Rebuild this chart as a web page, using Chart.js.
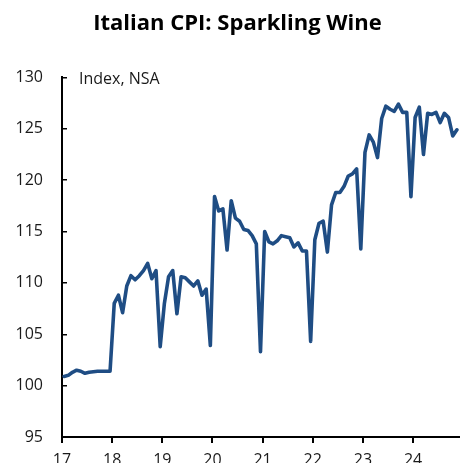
<!DOCTYPE html>
<html>
<head>
<meta charset="utf-8">
<script src="https://cdn.jsdelivr.net/npm/chart.js@4"></script>
<style>
  html, body { margin: 0; padding: 0; background: #fff; overflow: hidden; }
  #cpiChart { display: block; }
</style>
</head>
<body>
<canvas id="cpiChart" width="467" height="480"></canvas>
<script>
// Italian CPI, sparkling wine, monthly index (NSA), one array per year
const cpi2017 = [100.9, 101.0, 101.3, 101.5, 101.4, 101.2, 101.3, 101.35, 101.4, 101.4, 101.4, 101.4];
const cpi2018 = [108.0, 108.8, 107.1, 109.7, 110.7, 110.3, 110.7, 111.2, 111.9, 110.4, 111.2, 103.8];
const cpi2019 = [108.0, 110.6, 111.2, 107.0, 110.6, 110.5, 110.1, 109.7, 110.2, 108.8, 109.4, 103.9];
const cpi2020 = [118.4, 117.0, 117.2, 113.2, 118.0, 116.3, 116.0, 115.2, 115.1, 114.6, 113.8, 103.3];
const cpi2021 = [115.0, 114.0, 113.8, 114.1, 114.6, 114.5, 114.4, 113.5, 113.9, 113.1, 113.1, 104.3];
const cpi2022 = [114.2, 115.8, 116.0, 113.0, 117.6, 118.8, 118.8, 119.4, 120.4, 120.6, 121.1, 113.3];
const cpi2023 = [122.7, 124.4, 123.7, 122.2, 126.0, 127.2, 126.9, 126.7, 127.4, 126.6, 126.6, 118.4];
const cpi2024 = [126.1, 127.1, 122.5, 126.5, 126.4, 126.6, 125.6, 126.5, 126.1, 124.3, 124.9];

const years = [17, 18, 19, 20, 21, 22, 23, 24];
const yearLabels = ['17', '18', '19', '20', '21', '22', '23', '24'];
const yTicks = [95, 100, 105, 110, 115, 120, 125, 130];

// monthly points sit mid-month on a fractional-year axis
const series = [cpi2017, cpi2018, cpi2019, cpi2020, cpi2021, cpi2022, cpi2023, cpi2024];
const points = [];
series.forEach((vals, yi) => {
  vals.forEach((v, m) => points.push({ x: years[yi] + (m + 0.5) / 12, y: v }));
});

const FONT = "'Open Sans', 'Noto Sans', sans-serif";
const INK = '#1a1a1a';

// unit note in the top-left corner of the plot
const unitNote = {
  id: 'unitNote',
  afterDraw(chart) {
    const { ctx, chartArea } = chart;
    ctx.save();
    ctx.font = '16px ' + FONT;
    ctx.fillStyle = INK;
    ctx.textAlign = 'left';
    ctx.textBaseline = 'middle';
    ctx.fillText('Index, NSA', chartArea.left + 17, chartArea.top + 2);
    ctx.restore();
  }
};

const ctx = document.getElementById('cpiChart').getContext('2d');
const cpiChart = new Chart(ctx, {
  type: 'line',
  data: {
    datasets: [{
      label: 'Sparkling Wine',
      data: points,
      borderColor: '#1f4d84',
      borderWidth: 3.6,
      pointRadius: 0,
      tension: 0,
      borderJoinStyle: 'round',
      borderCapStyle: 'round'
    }]
  },
  options: {
    responsive: false,
    animation: false,
    layout: { padding: { top: 0, right: 8, bottom: 0, left: 16 } },
    plugins: {
      legend: { display: false },
      tooltip: { enabled: false },
      title: {
        display: true,
        text: 'Italian CPI: Sparkling Wine',
        color: '#000',
        font: { family: FONT, size: 22, weight: 'bold' },
        padding: { top: 11, bottom: 40 }
      }
    },
    scales: {
      x: {
        type: 'linear',
        min: 17,
        max: 24 + 11 / 12,
        afterFit: s => { s.height = 43; },
        afterBuildTicks: s => { s.ticks = years.map(v => ({ value: v })); },
        ticks: {
          includeBounds: false,
          padding: 8,
          color: INK,
          font: { family: FONT, size: 16 },
          maxRotation: 0,
          callback: v => yearLabels[years.indexOf(v)]
        },
        grid: { drawOnChartArea: false, tickLength: 6, color: '#000', lineWidth: 2 },
        border: { color: '#000', width: 2 }
      },
      y: {
        min: 95,
        max: 130,
        afterFit: s => { s.width = 46; },
        afterBuildTicks: s => { s.ticks = yTicks.map(v => ({ value: v })); },
        ticks: {
          padding: 24,
          color: INK,
          font: { family: FONT, size: 16 }
        },
        grid: { drawOnChartArea: false, tickLength: -5, color: '#000', lineWidth: 1.5 },
        border: { color: '#000', width: 2 }
      }
    }
  },
  plugins: [unitNote]
});
</script>
</body>
</html>
